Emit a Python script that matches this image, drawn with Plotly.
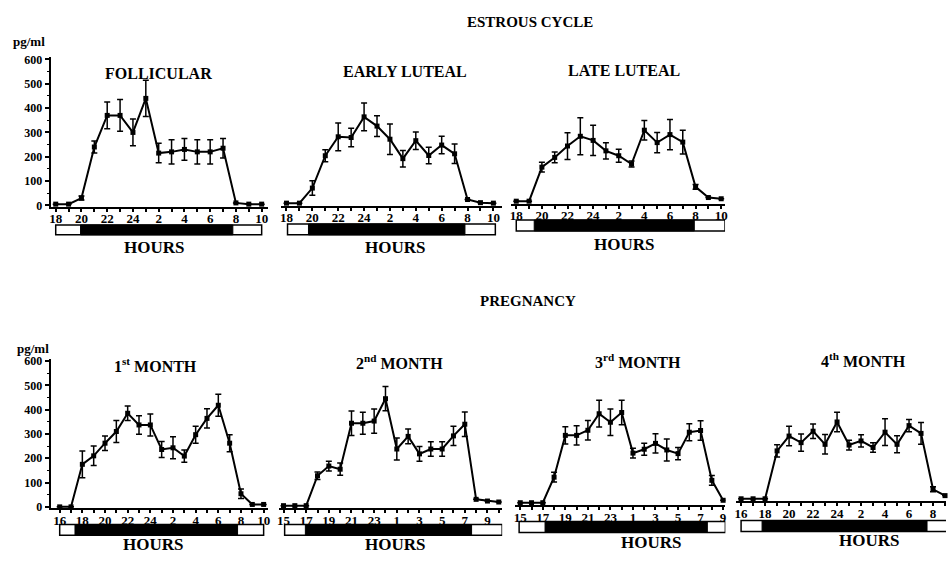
import plotly.graph_objects as go

W, H = 949, 561

# ---------------- data ----------------
est_hours = ["18", "19", "20", "21", "22", "23", "24", "1", "2", "3", "4", "5", "6", "7", "8", "9", "10"]
m1_hours = ["16", "17", "18", "19", "20", "21", "22", "23", "24", "1", "2", "3", "4", "5", "6", "7", "8", "9", "10"]
m2_hours = ["15", "16", "17", "18", "19", "20", "21", "22", "23", "24", "1", "2", "3", "4", "5", "6", "7", "8", "9", "10"]
m3_hours = ["15", "16", "17", "18", "19", "20", "21", "22", "23", "24", "1", "2", "3", "4", "5", "6", "7", "8", "9"]
m4_hours = ["16", "17", "18", "19", "20", "21", "22", "23", "24", "1", "2", "3", "4", "5", "6", "7", "8", "9"]

follicular = [5, 5, 30, 240, 370, 370, 300, 440, 215, 220, 230, 220, 220, 235, 10, 5, 5]
follicular_err = [0, 0, 8, 25, 55, 65, 55, 75, 40, 50, 45, 50, 50, 40, 0, 0, 0]
early_luteal = [5, 5, 67, 200, 278, 275, 360, 322, 268, 188, 262, 201, 244, 208, 20, 7, 5]
early_luteal_err = [0, 0, 30, 25, 57, 38, 57, 43, 63, 34, 36, 34, 36, 40, 0, 0, 0]
late_luteal = [5, 5, 145, 185, 232, 272, 255, 212, 192, 158, 297, 246, 279, 248, 64, 20, 15]
late_luteal_err = [0, 0, 20, 22, 55, 76, 62, 33, 27, 12, 40, 42, 62, 49, 10, 0, 0]

month1 = [0, 0, 175, 210, 262, 310, 385, 337, 337, 236, 243, 209, 297, 364, 418, 262, 54, 10, 10]
month1_err = [0, 0, 55, 40, 30, 45, 30, 38, 45, 33, 45, 25, 35, 40, 45, 35, 20, 0, 0]
month2 = [5, 5, 5, 128, 168, 155, 344, 344, 353, 445, 238, 290, 218, 238, 238, 292, 340, 31, 24, 20]
month2_err = [0, 0, 0, 15, 20, 25, 50, 45, 50, 50, 45, 30, 30, 30, 30, 40, 50, 0, 0, 0]
month3 = [5, 5, 5, 110, 282, 282, 303, 371, 336, 376, 209, 225, 249, 222, 207, 295, 302, 97, 15]
month3_err = [0, 0, 0, 20, 35, 40, 40, 55, 55, 50, 20, 25, 40, 45, 25, 35, 40, 20, 0]
month4 = [5, 5, 5, 202, 263, 236, 283, 229, 321, 226, 243, 216, 279, 229, 306, 274, 44, 18]
month4_err = [0, 0, 0, 25, 40, 35, 30, 40, 40, 20, 25, 20, 55, 35, 25, 45, 10, 0]

# light / dark bar (in hours after the first sample)
bar_start = [0, 0.08, 0, 0, 0.1, -0.1, 0]
bar_end = [16, 16.15, 16.3, 18, 19.3, 18.2, 17.2]
dark_start = [1.93, 1.7, 1.4, 1.35, 1.93, 2.2, 1.75]
dark_end = [13.76, 13.8, 13.9, 15.7, 16.6, 16.6, 15.5]

panel_titles = ["FOLLICULAR", "EARLY LUTEAL", "LATE LUTEAL",
                "1<sup>st</sup> MONTH", "2<sup>nd</sup> MONTH", "3<sup>rd</sup> MONTH", "4<sup>th</sup> MONTH"]
y_ticks = [0, 100, 200, 300, 400, 500, 600]

# ---------------- layout geometry ----------------
series = [
    (est_hours, follicular, follicular_err),
    (est_hours, early_luteal, early_luteal_err),
    (est_hours, late_luteal, late_luteal_err),
    (m1_hours, month1, month1_err),
    (m2_hours, month2, month2_err),
    (m3_hours, month3, month3_err),
    (m4_hours, month4, month4_err),
]
geom = [
    dict(x0=54, s=12.94, a=-0.39, b=16.5, base=205, yax=True, bar=(225, 235), tp=(157, 71), hp=(153, 248)),
    dict(x0=286, s=13.0, a=-0.46, b=16.7, base=204, yax=False, bar=(224, 235), tp=(405, 69), hp=(395, 248)),
    dict(x0=517, s=12.875, a=-0.4, b=16.3, base=202, yax=False, bar=(220, 231), tp=(625, 68), hp=(625, 245)),
    dict(x0=58, s=11.39, a=-0.79, b=18.35, base=512, yax=True, bar=(530, 541), tp=(154, 368), hp=(152, 550)),
    dict(x0=283, s=11.39, a=-0.44, b=19.3, base=512, yax=False, bar=(530, 541), tp=(400, 365), hp=(395, 550)),
    dict(x0=521, s=11.33, a=-0.5, b=18.2, base=509, yax=False, bar=(527, 538), tp=(639, 363), hp=(652, 548)),
    dict(x0=743, s=12.06, a=-0.4, b=17.08, base=505, yax=False, bar=(526, 537), tp=(866, 362), hp=(872, 546)),
]

K = 148.5 / 600.0  # px per pg/ml
YMIN, YMAX = -5, 610
FONT = "Liberation Serif, Times New Roman, DejaVu Serif, serif"

fig = go.Figure()
shapes = []
annotations = []

for i, ((hours, vals, errs), g) in enumerate(zip(series, geom)):
    n = i + 1
    sfx = "" if n == 1 else str(n)
    xs = list(range(len(hours)))
    fig.add_trace(go.Scatter(
        x=xs, y=vals, mode="lines+markers",
        line=dict(color="black", width=2),
        marker=dict(color="black", size=5, symbol="square"),
        error_y=dict(type="data", array=errs, visible=True, color="black", thickness=1.5, width=3),
        xaxis="x" + sfx, yaxis="y" + sfx, cliponaxis=False, showlegend=False,
    ))
    xd = [max(0, (g["x0"] + g["a"] * g["s"]) / W), min(1, (g["x0"] + g["b"] * g["s"]) / W)]
    B = g["base"]
    yd = [1 - (B - YMIN * K) / H, 1 - (B - YMAX * K) / H]
    fig.layout["xaxis" + sfx] = dict(
        domain=xd, range=[g["a"], g["b"]], anchor="y" + sfx,
        tickmode="array", tickvals=xs[::2], ticktext=hours[::2],
        minor=dict(tickmode="linear", tick0=0, dtick=1, ticks="outside", ticklen=3,
                   tickwidth=1.5, tickcolor="black", showgrid=False),
        showline=True, linecolor="black", linewidth=2,
        ticks="outside", ticklen=3, tickwidth=1.5, tickcolor="black",
        ticklabelstandoff=-4,
        tickfont=dict(family=FONT, size=13, color="black", weight="bold"),
        showgrid=False, zeroline=False, fixedrange=True,
    )
    fig.layout["yaxis" + sfx] = dict(
        domain=yd, range=[YMIN, YMAX], anchor="x" + sfx,
        visible=g["yax"], tickmode="array", tickvals=y_ticks,
        minor=dict(tickmode="array", tickvals=[50, 150, 250, 350, 450, 550], ticks="outside",
                   ticklen=2, tickwidth=1.2, tickcolor="black", showgrid=False),
        showline=True, linecolor="black", linewidth=2,
        ticks="outside", ticklen=4, tickwidth=1.5, tickcolor="black",
        tickfont=dict(family=FONT, size=12, color="black", weight="bold"),
        showgrid=False, zeroline=False, fixedrange=True,
    )
    bt, bb = g["bar"]
    shapes.append(dict(type="rect", xref="x" + sfx, yref="paper",
                       x0=bar_start[i], x1=bar_end[i], y0=1 - bb / H, y1=1 - bt / H,
                       fillcolor="white", line=dict(color="black", width=1.5)))
    shapes.append(dict(type="rect", xref="x" + sfx, yref="paper",
                       x0=dark_start[i], x1=dark_end[i], y0=1 - bb / H, y1=1 - bt / H,
                       fillcolor="black", line=dict(color="black", width=1)))
    annotations.append(dict(text="<b>" + panel_titles[i] + "</b>", x=g["tp"][0] / W, y=1 - g["tp"][1] / H,
                            xref="paper", yref="paper", showarrow=False, xanchor="center", yanchor="middle",
                            font=dict(family=FONT, size=16, color="black")))
    annotations.append(dict(text="<b>HOURS</b>", x=g["hp"][0] / W, y=1 - g["hp"][1] / H,
                            xref="paper", yref="paper", showarrow=False, xanchor="center", yanchor="middle",
                            font=dict(family=FONT, size=17, color="black")))

for txt, px, py, sz in [("ESTROUS CYCLE", 531, 18, 15), ("PREGNANCY", 529, 302, 15),
                        ("pg/ml", 27, 38, 13), ("pg/ml", 31, 351, 13)]:
    annotations.append(dict(text="<b>" + txt + "</b>", x=px / W, y=1 - py / H, xref="paper", yref="paper",
                            showarrow=False, xanchor="center", yanchor="middle",
                            font=dict(family=FONT, size=sz, color="black")))

fig.update_layout(
    width=W, height=H, margin=dict(l=0, r=0, t=0, b=0),
    paper_bgcolor="white", plot_bgcolor="white",
    shapes=shapes, annotations=annotations, showlegend=False,
)

fig.write_html("out.html", config={"displayModeBar": False},
               post_script="document.body.style.margin='0';document.body.style.overflow='hidden';")
